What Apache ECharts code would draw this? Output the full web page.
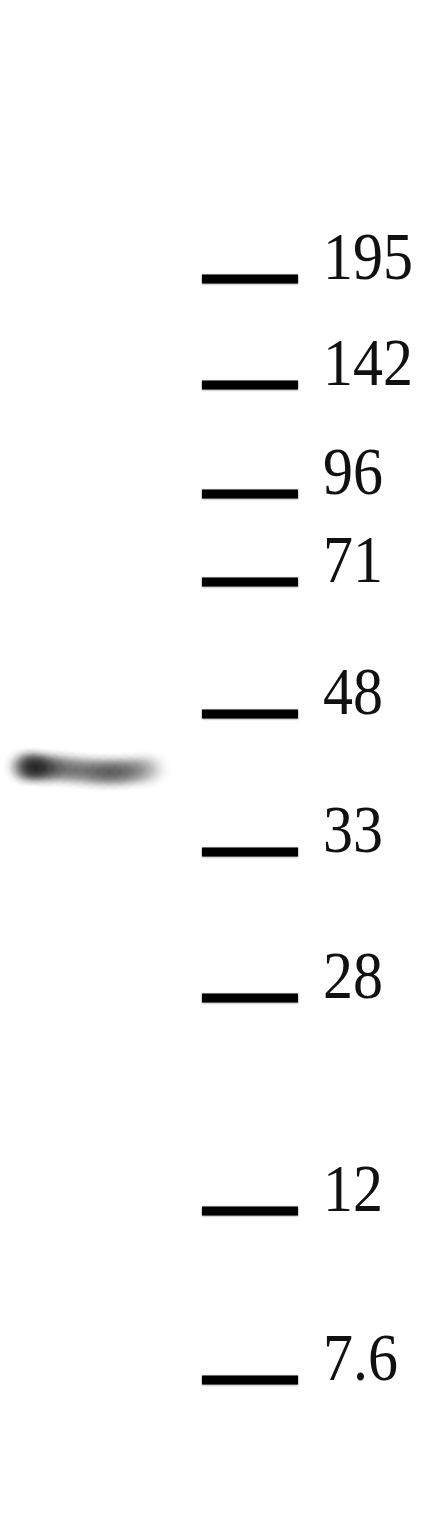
<!DOCTYPE html>
<html>
<head>
<meta charset="utf-8">
<script src="https://cdn.jsdelivr.net/npm/echarts@6/dist/echarts.min.js"></script>
<style>
    html, body { margin: 0; padding: 0; background: #fff; }
    #blot { width: 447px; height: 1520px; }
</style>
</head>
<body>
<div id="blot"></div>
<script>
    // lanes of the blot
    var lanes = ['Sample', 'Marker'];

    // marker ladder (kDa) and its migration on the membrane
    var markerLabels = ['195', '142', '96', '71', '48', '33', '28', '12', '7.6'];
    var markerMigration = [279, 385, 494, 582, 714, 852, 998, 1211, 1380];

    // sample band: density profile across the lane
    var bandOffset = [-0.42, -0.38, -0.34, -0.29, -0.23, -0.16, -0.09, -0.02, 0.05, 0.12, 0.19, 0.26, 0.33, 0.39];
    var bandMigration = [767, 767, 767, 768, 768, 769, 770, 771, 772, 772, 772, 771, 770, 769];
    var bandDensity = [0.55, 0.85, 0.95, 0.9, 0.75, 0.65, 0.6, 0.62, 0.7, 0.75, 0.72, 0.6, 0.42, 0.2];

    var chart = echarts.init(document.getElementById('blot'), null, {renderer: 'canvas'});

    var markerData = markerMigration.map(function (m, i) {
        return [1, m, markerLabels[i]];
    });
    var bandData = bandMigration.map(function (m, i) {
        return [0, m, bandDensity[i], bandOffset[i]];
    });

    chart.setOption({
        backgroundColor: '#fff',
        animation: false,
        grid: {left: 10, width: 320, top: 0, bottom: 0},
        xAxis: {type: 'category', data: lanes, show: false},
        yAxis: {type: 'value', inverse: true, min: 0, max: 1520, show: false},
        series: [
            {
                // band in the sample lane
                type: 'custom',
                data: bandData,
                renderItem: function (params, api) {
                    var lane = api.size([1, 0])[0];
                    var p = api.coord([api.value(0), api.value(1)]);
                    var a = api.value(2);
                    return {
                        type: 'ellipse',
                        shape: {cx: p[0] + api.value(3) * lane, cy: p[1], rx: 20, ry: 32},
                        style: {
                            fill: {
                                type: 'radial', x: 0.5, y: 0.5, r: 0.5,
                                colorStops: [
                                    {offset: 0, color: 'rgba(0,0,0,' + (a * 0.6) + ')'},
                                    {offset: 0.4, color: 'rgba(0,0,0,' + (a * 0.42) + ')'},
                                    {offset: 0.75, color: 'rgba(0,0,0,' + (a * 0.1) + ')'},
                                    {offset: 1, color: 'rgba(0,0,0,0)'}
                                ]
                            }
                        }
                    };
                }
            },
            {
                // molecular weight ladder
                type: 'custom',
                data: markerData,
                renderItem: function (params, api) {
                    var lane = api.size([1, 0])[0];
                    var p = api.coord([api.value(0), api.value(1)]);
                    var half = lane * 0.3;
                    return {
                        type: 'group',
                        children: [
                            {
                                type: 'rect',
                                shape: {x: p[0] - half, y: p[1] - 4.5, width: half * 2, height: 9},
                                style: {fill: '#000', shadowBlur: 2, shadowColor: 'rgba(0,0,0,0.5)'}
                            },
                            {
                                type: 'text',
                                x: p[0] + half + 25,
                                y: p[1] - 18,
                                scaleY: 1.13,
                                style: {
                                    text: api.value(2),
                                    x: 0, y: 0,
                                    fill: '#111',
                                    font: '60px "Liberation Serif"',
                                    align: 'left',
                                    verticalAlign: 'middle'
                                }
                            }
                        ]
                    };
                }
            }
        ]
    });
</script>
</body>
</html>
